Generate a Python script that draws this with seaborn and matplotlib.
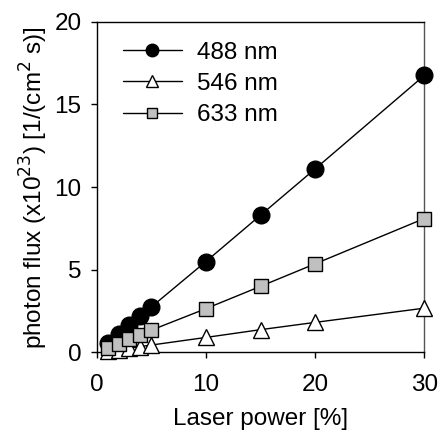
import matplotlib
matplotlib.use("Agg")
import matplotlib.pyplot as plt
import seaborn as sns
import pandas as pd

laser_power = [1, 2, 3, 4, 5, 10, 15, 20, 30]
flux_488 = [0.55, 1.1, 1.65, 2.2, 2.75, 5.5, 8.3, 11.1, 16.75]
flux_546 = [0.09, 0.18, 0.27, 0.36, 0.45, 0.91, 1.38, 1.82, 2.68]
flux_633 = [0.27, 0.54, 0.81, 1.08, 1.35, 2.65, 4.0, 5.36, 8.1]
series_labels = ["488 nm", "546 nm", "633 nm"]
x_ticks = [0, 10, 20, 30]
y_ticks = [0, 5, 10, 15, 20]

sns.set_theme(style="ticks")
plt.rcParams['font.family'] = ['Liberation Sans', 'DejaVu Sans']
plt.rcParams['text.color'] = 'black'
plt.rcParams['axes.labelcolor'] = 'black'

FS = 17.5
fig = plt.figure(figsize=(4.43, 4.41), dpi=100)
ax = fig.add_axes([0.2183, 0.2007, 0.9578 - 0.2183, 0.9508 - 0.2007])

styles = [
    dict(marker="o", markerfacecolor="black", markersize=12),
    dict(marker="^", markerfacecolor="white", markersize=12),
    dict(marker="s", markerfacecolor="#c0c0c0", markersize=10),
]
for vals, lab, st in zip([flux_488, flux_546, flux_633], series_labels, styles):
    df = pd.DataFrame({"x": laser_power, "y": vals})
    sns.lineplot(data=df, x="x", y="y", ax=ax, color="black", linewidth=1.0,
                 markeredgecolor="black", markeredgewidth=1.0, label=lab,
                 clip_on=False, zorder=3, **st)

ax.set_xlim(0, 30)
ax.set_ylim(0, 20)
ax.set_xticks(x_ticks)
ax.set_yticks(y_ticks)
ax.tick_params(axis="both", labelsize=FS, direction="out", length=4, width=1,
               colors="black")
ax.tick_params(axis="x", pad=11.5)
ax.tick_params(axis="y", pad=7)
ax.tick_params(top=False, right=False)
for s in ax.spines.values():
    s.set_visible(True)
    s.set_color("black")
    s.set_linewidth(1.0)
ax.spines["right"].set_color("#555555")

ax.set_xlabel("Laser power [%]", fontsize=FS, labelpad=8.5, color="black")
ax.set_ylabel("photon flux (x10$^{23}$) [1/(cm$^{2}$ s)]", fontsize=FS,
              labelpad=3, color="black")

leg = ax.legend(loc="upper left", frameon=False, fontsize=FS, handlelength=2.43,
                markerscale=0.75, borderaxespad=0, borderpad=0, labelspacing=0.38,
                bbox_to_anchor=(0.08, 0.94), handletextpad=0.6,
                labelcolor="black")

fig.savefig("out.png", dpi=100)
